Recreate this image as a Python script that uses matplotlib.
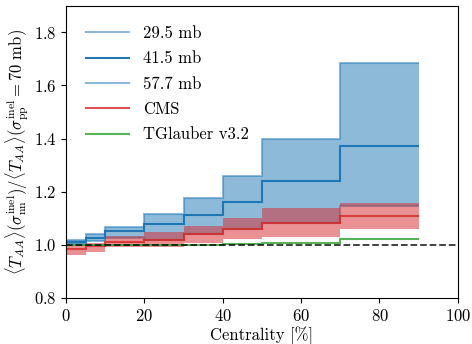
import numpy as np
import matplotlib
matplotlib.use("Agg")
import matplotlib.pyplot as plt

plt.rcParams['font.family'] = 'serif'
plt.rcParams['font.serif'] = ['cmr10']
plt.rcParams['mathtext.fontset'] = 'cm'
plt.rcParams['axes.formatter.use_mathtext'] = True
plt.rcParams['font.size'] = 12

# centrality bins [%]
edges = [0, 5, 10, 20, 30, 40, 50, 70, 90]

# <T_AA> ratio for different sigma_nn
ratio_295 = [1.018, 1.040, 1.068, 1.117, 1.178, 1.259, 1.397, 1.685]
ratio_415 = [1.010, 1.027, 1.052, 1.077, 1.114, 1.161, 1.240, 1.372]
ratio_577 = [1.003, 1.015, 1.024, 1.019, 1.040, 1.060, 1.083, 1.148]

# CMS values and uncertainty band
cms = [0.985, 0.995, 1.010, 1.017, 1.040, 1.060, 1.083, 1.108]
cms_hi = [0.998, 1.008, 1.035, 1.048, 1.072, 1.101, 1.138, 1.157]
cms_lo = [0.960, 0.972, 0.990, 0.990, 1.008, 1.020, 1.029, 1.058]

# TGlauber
tglauber = [1.000, 1.000, 1.000, 1.000, 1.001, 1.003, 1.007, 1.020]

fig, ax = plt.subplots(figsize=(4.72, 3.44), dpi=100)
fig.subplots_adjust(left=0.14, right=0.97, bottom=0.134, top=0.983)

ax.stairs(ratio_295, edges, baseline=ratio_577, fill=True, color='C0', alpha=0.5, lw=0)
ax.stairs(ratio_295, edges, baseline=None, color='C0', alpha=0.5, lw=1.5, label='29.5 mb')
ax.stairs(ratio_415, edges, baseline=None, color='C0', lw=1.5, label='41.5 mb')
ax.stairs(ratio_577, edges, baseline=None, color='C0', alpha=0.5, lw=1.5, label='57.7 mb')

ax.stairs(cms_hi, edges, baseline=cms_lo, fill=True, color='C3', alpha=0.5, lw=0)
ax.stairs(cms, edges, baseline=None, color='C3', alpha=0.8, lw=1.5, label='CMS')

ax.stairs(tglauber, edges, baseline=None, color='C2', alpha=0.8, lw=1.5, label='TGlauber v3.2')

ax.axhline(1.0, ls='--', color='k', lw=1.3, alpha=0.8)

ax.set_xlim(0, 100)
ax.set_ylim(0.8, 1.9)
ax.set_xticks(np.arange(0, 101, 20))
ax.set_yticks(np.arange(0.8, 1.81, 0.2))
ax.set_xlabel('Centrality [%]', labelpad=2)
ax.set_ylabel(r'$\langle T_{AA}\rangle(\sigma^{\rm inel}_{\rm nn})/\langle T_{AA}\rangle(\sigma^{\rm inel}_{\rm pp}=70\ {\rm mb})$', labelpad=2)
ax.legend(loc='upper left', frameon=False, handlelength=2.6, labelspacing=0.6,
          borderaxespad=0.8)

fig.savefig('out.png', dpi=100)
